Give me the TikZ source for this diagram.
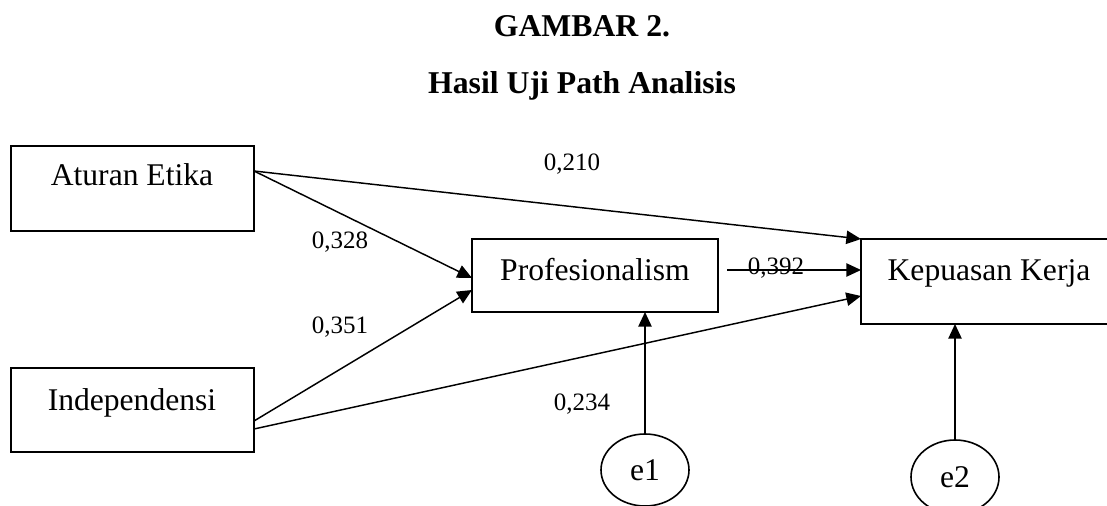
\documentclass[tikz,border=0pt]{standalone}
\usepackage{fontspec}
\setmainfont{Liberation Serif}
\usetikzlibrary{arrows.meta,calc,shapes.geometric}
\begin{document}
\begin{tikzpicture}[x=0.75pt,y=-0.75pt,
  box/.style={draw,line width=1.3pt,inner sep=0pt,outer sep=0pt,rectangle},
  lbl/.style={anchor=base,inner sep=0pt,font=\fontsize{23.7}{28}\selectfont},
  coef/.style={anchor=base,inner sep=0pt,font=\fontsize{18.75}{22}\selectfont},
  ttl/.style={anchor=base,inner sep=0pt,font=\fontsize{23.8}{28}\selectfont\bfseries},
  arr/.style={line width=1.1pt,-{Triangle[length=11pt,width=10pt]}},
  err/.style={draw,ellipse,line width=1.2pt,inner sep=0pt,outer sep=0pt,minimum width=66pt,font=\fontsize{23.7}{28}\selectfont}]
\useasboundingbox (0,0) rectangle (1107,506);
\clip (0,0) rectangle (1107,506);
\fill[white] (0,0) rectangle (1107,506);

% titles
\node[ttl] (t1) at (582,37) {GAMBAR 2.};
\node[ttl] (t2) at (582,94) {Hasil Uji Path Analisis};

% boxes
\node[box,minimum width=182.25pt,minimum height=63.75pt] (a) at (132.5,188.5) {};
\node[box,minimum width=182.25pt,minimum height=63pt] (i) at (132.5,410) {};
\node[box,minimum width=184.5pt,minimum height=54.75pt] (p) at (595,275.5) {};
\node[box,minimum width=192pt,minimum height=63.75pt] (k) at (989,281.5) {};

\node[lbl] (at) at (132,186) {Aturan Etika};
\node[lbl] (it) at (132,410) {Independensi};
\node[lbl] (pt) at (595,280) {Profesionalism};
\node[lbl] (kt) at (989,280) {Kepuasan Kerja};

% error terms
\node[err,minimum height=54pt] (e1) at (645,470) {e1};
\node[err,minimum height=55.5pt] (e2) at (955,477) {e2};

% paths
\draw[arr] ($(a.north east)+(0,25)$) -- (k.north west);
\draw[arr] ($(a.north east)+(0,25)$) -- ($(p.north west)+(0,39)$);
\draw[arr] ($(i.north east)+(0,53)$) -- ($(p.north west)+(0,51)$);
\draw[arr] ($(i.north east)+(0,61)$) -- ($(k.north west)+(0,57)$);
\draw[arr] ($(p.north east)+(9,31)$) -- ($(k.north west)+(0,31)$);
\draw[arr] (e1.north) -- ($(p.south west)+(173,0)$);
\draw[arr] (e2.north) -- ($(k.south west)+(94,0)$);

% coefficients
\node[coef] (c1) at (572,171) {0,210};
\node[coef] (c2) at (340,248) {0,328};
\node[coef] (c3) at (340,333) {0,351};
\node[coef] (c4) at (776,274) {0,392};
\node[coef] (c5) at (582,410) {0,234};
\end{tikzpicture}
\end{document}
